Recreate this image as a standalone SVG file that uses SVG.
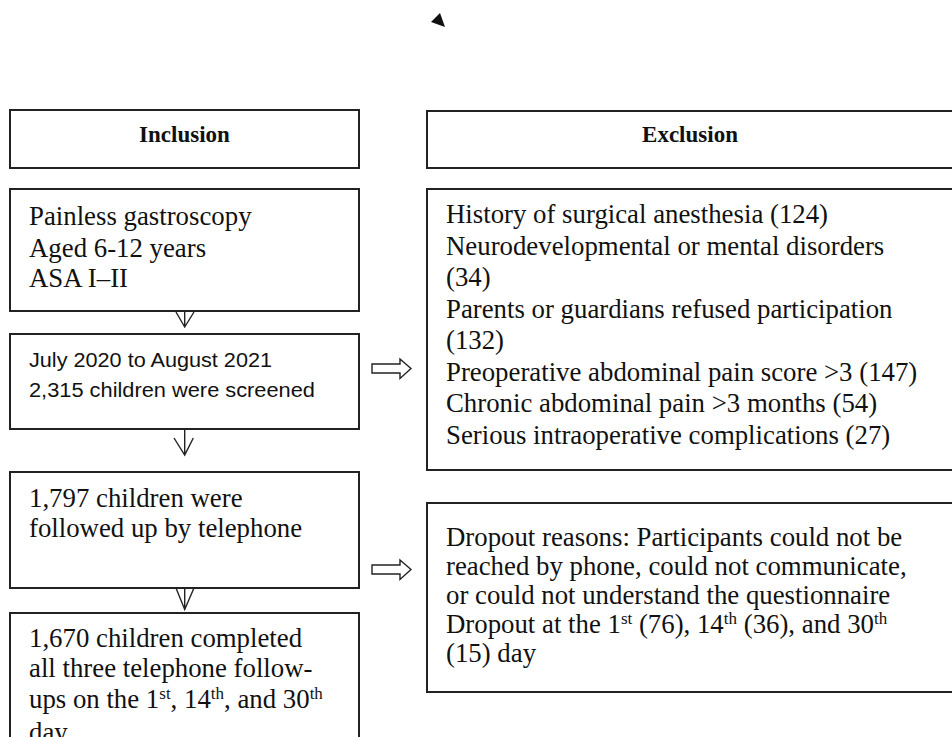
<svg xmlns="http://www.w3.org/2000/svg" width="952" height="737" viewBox="0 0 952 737">
<style>
.box{fill:#fff;stroke:#222;stroke-width:2}
.hd{font-family:"Liberation Serif","Times New Roman",serif;font-weight:bold;font-size:23px;fill:#111;text-anchor:middle}
.tx{font-family:"Liberation Serif","Times New Roman",serif;font-size:26.8px;fill:#111}
.sans{font-family:"Liberation Sans",Arial,sans-serif;font-size:20.5px;fill:#111}
.sup{font-size:17px}
.v{fill:none;stroke:#222;stroke-width:1.4}
.blk{fill:#fff;stroke:#222;stroke-width:1.4;stroke-linejoin:miter}
</style>
<rect width="952" height="737" fill="#fff"/>
<g id="connectors">
<polygon points="440,13 431,22 445,27" fill="#111"/>
<path class="v" d="M184.7,312 V327 M176,312 L184.7,327 L194,312"/>
<path class="v" d="M184.7,429 V455 M174,438 L184.7,455 L193.3,438"/>
<path class="v" d="M184.7,588 V609.5 M176,588 L184.7,609.5 L194,588"/>
<polygon class="blk" points="372,364 400,364 400,359 411,368.5 400,378.5 400,373 372,373"/>
<polygon class="blk" points="372,565 400,565 400,560 411,569.5 400,579.5 400,574 372,574"/>
</g>
<g id="inclusion-header">
<rect class="box" x="10" y="110" width="349" height="58"/>
<text class="hd" x="184.5" y="142">Inclusion</text>
</g>
<g id="criteria">
<rect class="box" x="10" y="189" width="349" height="122"/>
<text class="tx" x="29" y="225">Painless gastroscopy</text>
<text class="tx" x="29" y="256.5">Aged 6-12 years</text>
<text class="tx" x="29" y="287">ASA I–II</text>
</g>
<g id="screened">
<rect class="box" x="10" y="334" width="349" height="95"/>
<text class="sans" x="29" y="366.5" textLength="243" lengthAdjust="spacingAndGlyphs">July 2020 to August 2021</text>
<text class="sans" x="29" y="396.5" textLength="286" lengthAdjust="spacingAndGlyphs">2,315 children were screened</text>
</g>
<g id="followed">
<rect class="box" x="10" y="472" width="349" height="116"/>
<text class="tx" x="29" y="506.5">1,797 children were</text>
<text class="tx" x="29" y="537">followed up by telephone</text>
</g>
<g id="completed">
<rect class="box" x="10" y="613" width="349" height="160"/>
<text class="tx" x="29" y="646.5">1,670 children completed</text>
<text class="tx" x="29" y="677">all three telephone follow-</text>
<text class="tx" x="29" y="708">ups on the 1<tspan class="sup" dy="-9">st</tspan><tspan dy="9">, 14</tspan><tspan class="sup" dy="-9">th</tspan><tspan dy="9">, and 30</tspan><tspan class="sup" dy="-9">th</tspan></text>
<text class="tx" x="29" y="741">day</text>
</g>
<g id="exclusion-header">
<rect class="box" x="427" y="111" width="530" height="57"/>
<text class="hd" x="690" y="142">Exclusion</text>
</g>
<g id="exclusions">
<rect class="box" x="427" y="189" width="530" height="281"/>
<text class="tx" x="446" y="223">History of surgical anesthesia (124)</text>
<text class="tx" x="446" y="254.5">Neurodevelopmental or mental disorders</text>
<text class="tx" x="446" y="286">(34)</text>
<text class="tx" x="446" y="317.5">Parents or guardians refused participation</text>
<text class="tx" x="446" y="349">(132)</text>
<text class="tx" x="446" y="380.5">Preoperative abdominal pain score &gt;3 (147)</text>
<text class="tx" x="446" y="412">Chronic abdominal pain &gt;3 months (54)</text>
<text class="tx" x="446" y="443.5">Serious intraoperative complications (27)</text>
</g>
<g id="dropout">
<rect class="box" x="427" y="503" width="530" height="189"/>
<text class="tx" x="446" y="546">Dropout reasons: Participants could not be</text>
<text class="tx" x="446" y="575">reached by phone, could not communicate,</text>
<text class="tx" x="446" y="604">or could not understand the questionnaire</text>
<text class="tx" x="446" y="633">Dropout at the 1<tspan class="sup" dy="-9">st</tspan><tspan dy="9"> (76), 14</tspan><tspan class="sup" dy="-9">th</tspan><tspan dy="9"> (36), and 30</tspan><tspan class="sup" dy="-9">th</tspan></text>
<text class="tx" x="446" y="662">(15) day</text>
</g>
</svg>
